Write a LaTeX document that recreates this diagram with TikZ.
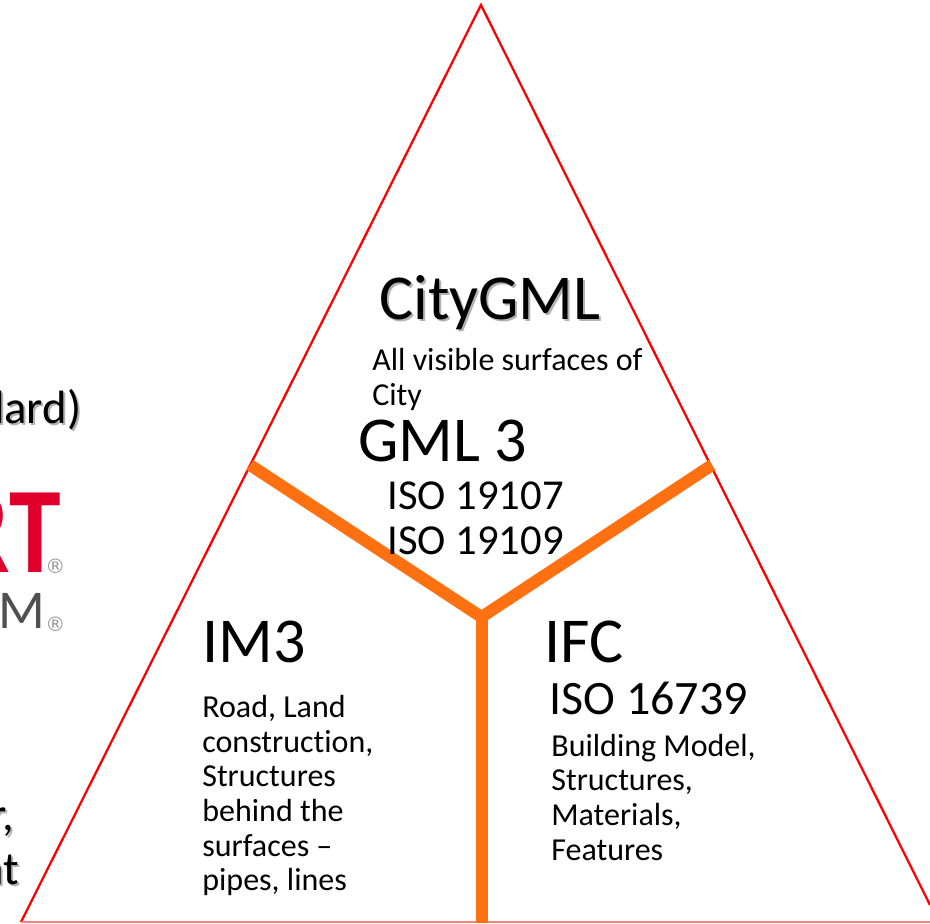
\documentclass[tikz,border=0pt]{standalone}
\usepackage{fontspec}
\setmainfont[RawFeature={-liga;-clig}]{Carlito}
\newfontfamily\symfont{DejaVu Sans}
\definecolor{orangeY}{RGB}{255,112,16}
\definecolor{redT}{RGB}{255,0,0}
\definecolor{logored}{RGB}{224,0,44}
\definecolor{logogray}{RGB}{80,80,80}
\tikzset{
 x=0.75pt,y=-0.75pt,
 txt/.style={anchor=base west,inner sep=0pt,outer sep=0pt,text=black,yshift=-0.75pt,xshift=-0.5pt},
 small/.style={txt,font=\fontsize{24}{29}\selectfont},
 mid/.style={txt,font=\fontsize{32}{39}\selectfont},
 big/.style={txt,font=\fontsize{48}{58}\selectfont},
 cut/.style={txt,anchor=base east,font=\fontsize{35}{42}\selectfont},
 regmark/.style={txt,text=logogray!60,font=\symfont\fontsize{15}{17}\selectfont},
 tri/.style={draw=redT,line width=1.7pt,line join=miter},
 spoke/.style={draw=orangeY,line width=9pt,line cap=butt},
}
\begin{document}
\begin{tikzpicture}
\useasboundingbox (0,0) rectangle (930,923);
\clip (0,0) rectangle (930,923);
\fill[white] (0,0) rectangle (930,923);
% triangle
\coordinate (apex) at (481,5);
\coordinate (bl) at (21,922);
\coordinate (brb) at (930,922);
\coordinate (br) at (930,905);
\coordinate (hub) at (481.5,617);
\coordinate (sl) at (250,465);
\coordinate (sr) at (712,465);
\coordinate (sb) at (481.5,923);
\draw[tri] (bl) -- (apex) -- (br);
\draw[draw=redT!50,line width=1pt] (bl) -- (brb);
\draw[spoke] (sl) -- (hub) -- (sr);
\draw[spoke] (hub) -- (sb);
% cut-off left texts
\node[cut,text=black!30] (s1) at (84,424) {(Standard)};
\node[cut] (t1) at (82,422) {(Standard)};
\node[txt,anchor=base east,xscale=0.85,text=logored,font=\bfseries\fontsize{92}{100}\selectfont] (logo) at (61.5,571) {RT};
\node[regmark] (r1) at (46,572) {®};
\node[txt,anchor=base east,text=logogray,font=\fontsize{41}{48}\selectfont] (bim) at (45.5,627) {BIM};
\node[regmark] (r2) at (46,630) {®};
\node[cut,text=black!30] (s2) at (17,831) {r,};
\node[cut] (t2) at (15,829) {r,};
\node[cut,text=black!30] (s3) at (22,885) {nt};
\node[cut] (t3) at (20,883) {nt};
% top
\node[big,text=black!30] (c0) at (382,320) {CityGML};
\node[big] (c1) at (380,318) {CityGML};
\node[small] (a1) at (373,369) {All visible surfaces of};
\node[small] (a2) at (373,404) {City};
\node[big] (g) at (359,460) {GML 3};
\node[mid] (i1) at (388,508) {ISO 19107};
\node[mid] (i2) at (388,553) {ISO 19109};
% left
\node[big] (im) at (203,661) {IM3};
\node[small] (l1) at (203,716) {Road, Land};
\node[small] (l2) at (203,751) {construction,};
\node[small] (l3) at (203,785) {Structures};
\node[small] (l4) at (203,820) {behind the};
\node[small] (l5) at (203,855) {surfaces –};
\node[small] (l6) at (203,889) {pipes, lines};
% right
\node[big] (ifc) at (545,661) {IFC};
\node[txt,font=\fontsize{36}{43}\selectfont] (iso) at (550,713) {ISO 16739};
\node[small] (r1a) at (552,755) {Building Model,};
\node[small] (r2a) at (552,789) {Structures,};
\node[small] (r3a) at (552,824) {Materials,};
\node[small] (r4a) at (552,859) {Features};
\end{tikzpicture}
\end{document}
